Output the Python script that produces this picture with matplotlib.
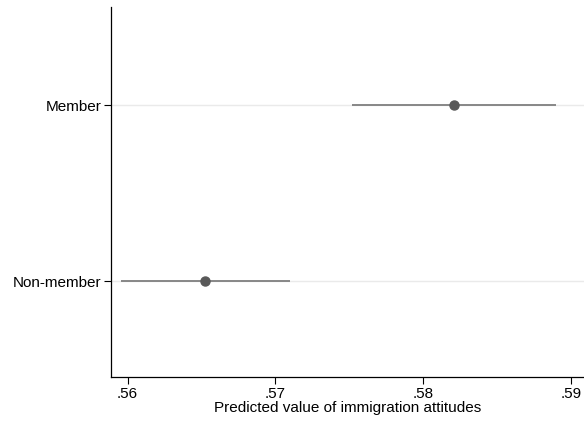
import matplotlib
matplotlib.use("Agg")
import matplotlib.pyplot as plt

plt.rcParams['font.family'] = ['Liberation Sans', 'DejaVu Sans']

# predicted values with confidence intervals
groups = ['Non-member', 'Member']
estimates = [0.56526, 0.58210]
ci_low = [0.55955, 0.57517]
ci_high = [0.57099, 0.58900]
xticks = [0.56, 0.57, 0.58, 0.59]
xtick_labels = ['.56', '.57', '.58', '.59']

fig = plt.figure(figsize=(5.84, 4.25), dpi=100)
ax = fig.add_axes([111/584, 48/425, 1 - 111/584, 370/425])

ypos = list(range(len(groups)))
for y in ypos:
    ax.axhline(y, color='#eaeaea', lw=1, zorder=0)

ax.hlines(ypos, ci_low, ci_high, color='#7f7f7f', lw=1.3, zorder=2)
ax.plot(estimates, ypos, 'o', color='#595959', ms=6.5, zorder=3)

ax.set_xlim(0.55887, 0.5909)
ax.set_ylim(-0.545, 1.557)
ax.set_yticks(ypos)
ax.set_yticklabels(groups, fontsize=11)
ax.set_xticks(xticks)
ax.set_xticklabels(xtick_labels, fontsize=11)
ax.set_xlabel('Predicted value of immigration attitudes', fontsize=11, labelpad=0)

ax.spines['top'].set_visible(False)
ax.spines['right'].set_visible(False)
ax.spines['left'].set_linewidth(0.9)
ax.spines['bottom'].set_linewidth(0.9)
ax.tick_params(axis='both', length=5, width=0.8, pad=2)

fig.savefig('out.png', dpi=100, facecolor='white')
